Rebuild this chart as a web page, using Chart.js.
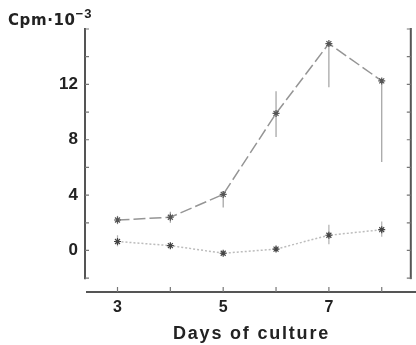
<!DOCTYPE html>
<html>
<head>
<meta charset="utf-8">
<script src="https://cdn.jsdelivr.net/npm/chart.js@4"></script>
<style>
    html, body { margin: 0; padding: 0; background: #fff; }
    #wrap { width: 416px; height: 345px; }
</style>
</head>
<body>
<div id="wrap"><canvas id="chart" width="416" height="345"></canvas></div>
<script>
// Days of culture
const days = [3, 4, 5, 6, 7, 8];
const xTickLabels = [3, 5, 7];

// Upper curve (dashed) and its error bars, Cpm x 10^-3
const upperValues = [2.2, 2.4, 4.05, 9.9, 14.95, 12.25];
const upperErrLow = [1.9, 2.0, 3.1, 8.2, 11.8, 6.4];
const upperErrHigh = [2.5, 2.8, 4.3, 11.5, 14.95, 12.25];

// Lower curve (dotted) and its error bars
const lowerValues = [0.65, 0.35, -0.2, 0.1, 1.1, 1.5];
const lowerErrLow = [0.3, 0.15, -0.35, -0.1, 0.45, 1.0];
const lowerErrHigh = [1.1, 0.55, -0.05, 0.3, 1.85, 2.1];

// y axis ticks and which get a label
const yTicks = [-2, 0, 2, 4, 6, 8, 10, 12, 14, 16];
const yTickLabels = [0, 4, 8, 12];

const axisColor = '#555';
const textColor = '#222';
const fontFamily = '"Liberation Sans", Arial, sans-serif';

// error bars, drawn under the points
const errorBars = {
    id: 'errorBars',
    beforeDatasetsDraw(chart) {
        const { ctx, scales: { x, y } } = chart;
        const sets = [
            { low: upperErrLow, high: upperErrHigh, color: '#a0a0a0' },
            { low: lowerErrLow, high: lowerErrHigh, color: '#b0b0b0' }
        ];
        ctx.save();
        ctx.lineWidth = 1.2;
        sets.forEach(s => {
            ctx.strokeStyle = s.color;
            days.forEach((d, i) => {
                const px = x.getPixelForValue(d);
                ctx.beginPath();
                ctx.moveTo(px, y.getPixelForValue(s.low[i]));
                ctx.lineTo(px, y.getPixelForValue(s.high[i]));
                ctx.stroke();
            });
        });
        ctx.restore();
    }
};

// frame in the style of the paper: two vertical rules with inward ticks,
// a detached x axis, axis title and the y unit
const paperAxes = {
    id: 'paperAxes',
    afterDraw(chart) {
        const { ctx, scales: { x, y }, chartArea } = chart;
        const top = y.getPixelForValue(yTicks[yTicks.length - 1]);
        const bottom = y.getPixelForValue(yTicks[0]);
        ctx.save();
        ctx.strokeStyle = axisColor;
        ctx.lineWidth = 2;
        [chartArea.left, chartArea.right].forEach(lx => {
            ctx.beginPath();
            ctx.moveTo(lx, top - 1);
            ctx.lineTo(lx, bottom + 1);
            ctx.stroke();
        });
        ctx.lineWidth = 1.2;
        ctx.strokeStyle = '#777';
        yTicks.forEach(v => {
            const py = y.getPixelForValue(v);
            ctx.beginPath();
            ctx.moveTo(chartArea.left, py);
            ctx.lineTo(chartArea.left + 4, py);
            ctx.moveTo(chartArea.right, py);
            ctx.lineTo(chartArea.right - 4, py);
            ctx.stroke();
        });

        // x axis
        const ay = chartArea.bottom;
        ctx.strokeStyle = axisColor;
        ctx.lineWidth = 2;
        ctx.beginPath();
        ctx.moveTo(chartArea.left + 1, ay);
        ctx.lineTo(chart.width, ay);
        ctx.stroke();
        ctx.lineWidth = 1.2;
        ctx.strokeStyle = '#777';
        days.forEach(d => {
            const px = x.getPixelForValue(d);
            ctx.beginPath();
            ctx.moveTo(px, ay);
            ctx.lineTo(px, ay - 5);
            ctx.stroke();
        });

        // axis title
        ctx.fillStyle = textColor;
        ctx.font = 'bold 18px ' + fontFamily;
        ctx.textAlign = 'left';
        ctx.textBaseline = 'alphabetic';
        ctx.letterSpacing = '1.8px';
        ctx.fillText('Days of culture', 173, 339);

        // unit
        ctx.font = 'bold 15px "DejaVu Sans", sans-serif';
        ctx.letterSpacing = '0.6px';
        ctx.fillText('Cpm\u00b710', 8, 25);
        const w = ctx.measureText('Cpm\u00b710').width;
        ctx.font = 'bold 13px ' + fontFamily;
        ctx.letterSpacing = '1px';
        ctx.fillText('\u22123', 8 + w, 18);
        ctx.restore();
    }
};

new Chart(document.getElementById('chart'), {
    type: 'line',
    data: {
        datasets: [
            {
                label: 'upper',
                data: days.map((d, i) => ({ x: d, y: upperValues[i] })),
                borderColor: '#959595',
                borderWidth: 1.5,
                borderDash: [12, 4],
                pointStyle: 'star',
                pointRadius: 3.5,
                pointBorderColor: '#555',
                pointBorderWidth: 1.2,
                tension: 0
            },
            {
                label: 'lower',
                data: days.map((d, i) => ({ x: d, y: lowerValues[i] })),
                borderColor: '#bcbcbc',
                borderWidth: 1.5,
                borderDash: [2, 2],
                pointStyle: 'star',
                pointRadius: 3.5,
                pointBorderColor: '#444',
                pointBorderWidth: 1.2,
                tension: 0
            }
        ]
    },
    options: {
        responsive: false,
        animation: false,
        layout: { padding: { top: 29, right: 3, left: 0, bottom: 0 } },
        plugins: {
            legend: { display: false },
            tooltip: { enabled: false }
        },
        scales: {
            x: {
                type: 'linear',
                min: 2.385,
                max: 8.55,
                afterBuildTicks: scale => { scale.ticks = days.map(v => ({ value: v })); },
                afterFit: scale => { scale.height = 53; },
                grid: { display: false, drawTicks: false },
                border: { display: false },
                ticks: {
                    autoSkip: false,
                    maxRotation: 0,
                    padding: 6,
                    color: textColor,
                    font: { family: fontFamily, size: 16, weight: 'bold' },
                    callback: v => xTickLabels.includes(v) ? String(v) : ''
                }
            },
            y: {
                min: -3,
                max: 16,
                afterBuildTicks: scale => { scale.ticks = yTicks.map(v => ({ value: v })); },
                afterFit: scale => { scale.width = 85; },
                grid: { display: false, drawTicks: false },
                border: { display: false },
                ticks: {
                    autoSkip: false,
                    padding: 7,
                    color: textColor,
                    font: { family: fontFamily, size: 17, weight: 'bold' },
                    callback: v => yTickLabels.includes(v) ? String(v) : ''
                }
            }
        }
    },
    plugins: [errorBars, paperAxes]
});
</script>
</body>
</html>
